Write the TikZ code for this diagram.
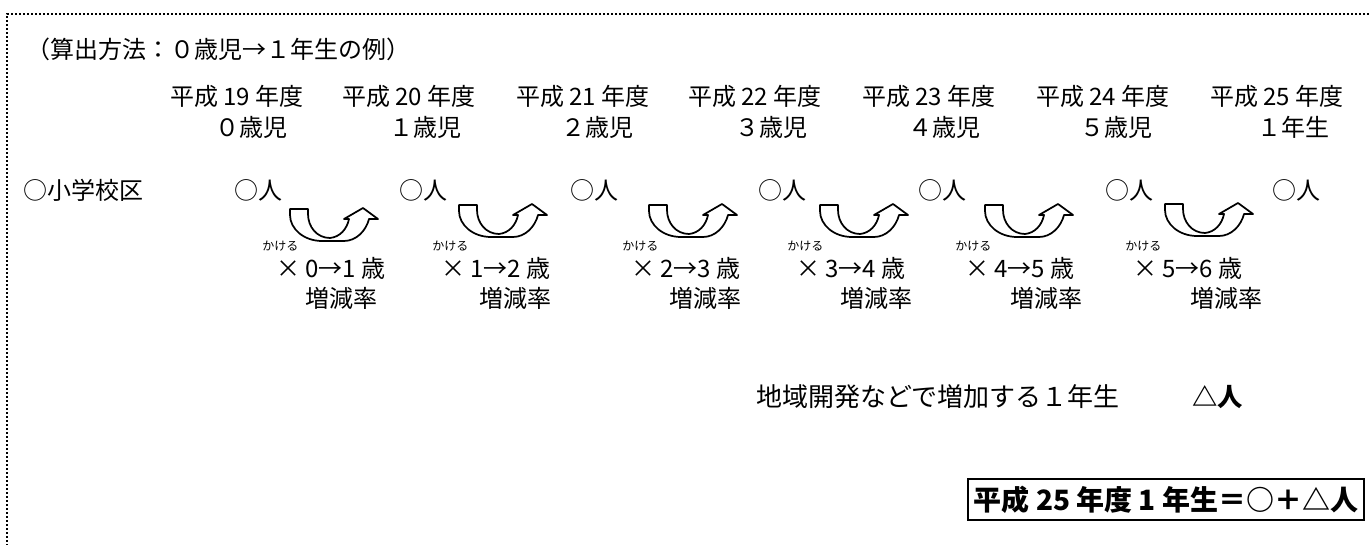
\documentclass[tikz,border=0pt]{standalone}
\usepackage{fontspec}
\setmainfont{Noto Sans CJK JP}
\begin{document}
\begin{tikzpicture}[x=0.75pt,y=-0.75pt,
  frame/.style={line width=1.5pt, dash pattern=on 1.5pt off 1.5pt},
  txt/.style={anchor=west, inner sep=0pt, font=\fontsize{18}{20}\selectfont},
  smalltxt/.style={anchor=west, inner sep=0pt, font=\fontsize{9}{10}\selectfont},
  boldtxt/.style={anchor=west, inner sep=0pt, font=\fontsize{19}{21}\selectfont\bfseries},
  resultbox/.style={draw, line width=1.5pt, inner sep=0pt, minimum width=297pt, minimum height=30.75pt, font=\fontsize{21}{23}\selectfont\bfseries},
  arrowline/.style={line width=1.3pt, line join=round},
  uturn/.pic={\draw[arrowline] (0,0) -- (18,0) -- (18,5)
      .. controls (18,18) and (27,29) .. (40,29)
      .. controls (50,28) and (57,20) .. (59,10)
      -- (54,10) -- (73,-1) -- (88,10) -- (79,10)
      .. controls (76,22) and (66,32) .. (54,32)
      -- (32,32)
      .. controls (14,32) and (0,20) .. (0,6) -- cycle;}
]
\useasboundingbox (0,0) rectangle (1369,545);
\coordinate (fTL) at (7,14);
\coordinate (fTR) at (1369,14);
\coordinate (fBL) at (7,545);
\draw[frame] (fTR) -- (fTL) -- (fBL);

\node[txt] (title) at (26,49) {（算出方法：０歳児→１年生の例）};

\foreach \x/\n [count=\i] in {170/19,342/20,516/21,688/22,862/23,1036/24,1210/25}
  \node[txt] (y\i) at (\x,96) {平成 {\n} 年度};

\foreach \x/\t [count=\i] in {215/０歳児,389/１歳児,561/２歳児,735/３歳児,908/４歳児,1080/５歳児,1257/１年生}
  \node[txt] (a\i) at (\x,127) {\t};

\node[txt] (school) at (23,190) {○小学校区};
\foreach \x [count=\i] in {234,399,570,758,918,1105,1272}
  \node[txt] (p\i) at (\x,190) {○人};

\foreach \x/\y [count=\i] in {290/209,459/205,649/205,820/205,985/205,1165/204}
  \pic (arr\i) at (\x,\y) {uturn};

\foreach \xa/\xb/\xc/\a/\b [count=\i] in {262/276/305/0/1,432/441/479/1/2,622/631/669/2/3,787/796/840/3/4,955/965/1010/4/5,1125/1133/1190/5/6}{
  \node[smalltxt] (k\i) at (\xa,246) {かける};
  \node[txt] (m\i) at (\xb,268) {× {\a}→{\b} 歳};
  \node[txt] (r\i) at (\xc,298) {増減率};
}

\node[txt, font=\fontsize{19.5}{21}\selectfont] (dev) at (756,397) {地域開発などで増加する１年生};
\node[boldtxt] (tri) at (1192,397) {△人};
\node[resultbox] (res) at (1166,499.5) {平成 25 年度 1 年生＝○＋△人};
\end{tikzpicture}
\end{document}
